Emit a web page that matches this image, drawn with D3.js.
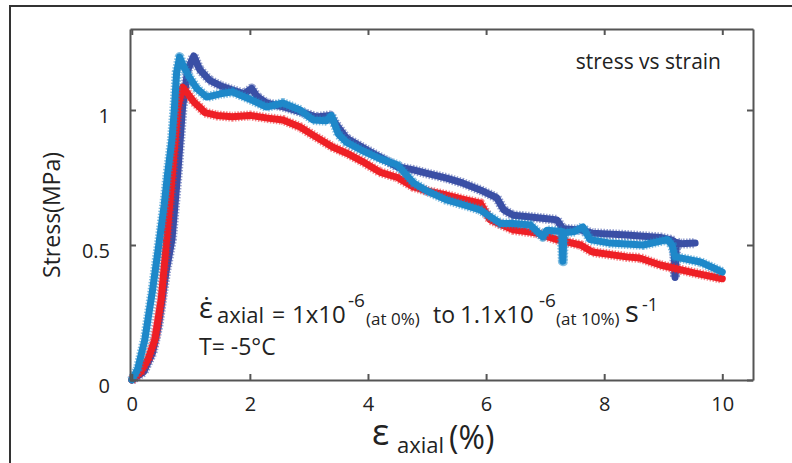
<!DOCTYPE html>
<html>
<head>
<meta charset="utf-8">
<script src="https://cdn.jsdelivr.net/npm/d3@7"></script>
<style>
  body { margin: 0; background: #fff; }
  svg { display: block; font-family: "Open Sans", sans-serif; }
</style>
</head>
<body>
<svg id="chart" width="792" height="463"></svg>
<script>
// tick values
const xTicks = [0, 2, 4, 6, 8, 10];
const yTicks = [0, 0.5, 1];

// strain (%) and stress (MPa)
const darkStrain = [0, 0.2, 0.35, 0.45, 0.58, 0.68, 0.78, 0.86, 0.95, 1.05, 1.15, 1.32, 1.5, 1.71, 1.9, 2.03, 2.12, 2.28, 2.6, 2.9, 3.13, 3.36, 3.45, 3.64, 4.0, 4.25, 4.49, 4.77, 5.0, 5.33, 5.6, 5.9, 6.18, 6.3, 6.46, 6.75, 7.03, 7.2, 7.3, 7.6, 7.8, 8.38, 8.95, 9.12, 9.18, 9.2, 9.22, 9.3, 9.54];
const darkStress = [0, 0.03, 0.1, 0.2, 0.4, 0.52, 0.77, 1.01, 1.15, 1.2, 1.15, 1.11, 1.09, 1.074, 1.06, 1.08, 1.05, 1.026, 1.01, 0.99, 0.974, 0.98, 0.95, 0.895, 0.85, 0.82, 0.79, 0.778, 0.765, 0.748, 0.73, 0.704, 0.675, 0.63, 0.61, 0.604, 0.597, 0.593, 0.56, 0.556, 0.544, 0.537, 0.528, 0.52, 0.515, 0.38, 0.51, 0.505, 0.507];

const lightStrain = [0, 0.1, 0.22, 0.35, 0.47, 0.55, 0.61, 0.68, 0.72, 0.76, 0.81, 0.88, 0.98, 1.1, 1.27, 1.5, 1.71, 2.0, 2.28, 2.56, 2.85, 3.07, 3.3, 3.38, 3.5, 3.64, 3.9, 4.2, 4.5, 4.77, 5.0, 5.33, 5.6, 5.9, 6.24, 6.46, 6.75, 6.96, 7.03, 7.28, 7.3, 7.32, 7.5, 7.64, 7.76, 8.1, 8.66, 9.07, 9.15, 9.2, 9.63, 10.0];
const lightStress = [0, 0.04, 0.148, 0.33, 0.52, 0.65, 0.77, 0.89, 1.0, 1.14, 1.196, 1.16, 1.12, 1.08, 1.048, 1.06, 1.067, 1.04, 1.011, 1.026, 1.0, 0.963, 0.96, 0.98, 0.91, 0.88, 0.85, 0.82, 0.796, 0.73, 0.7, 0.667, 0.65, 0.63, 0.58, 0.58, 0.574, 0.53, 0.555, 0.55, 0.44, 0.545, 0.55, 0.567, 0.52, 0.507, 0.5, 0.52, 0.5, 0.456, 0.437, 0.4];

const redStrain = [0, 0.15, 0.28, 0.39, 0.5, 0.59, 0.69, 0.78, 0.86, 0.95, 1.05, 1.15, 1.24, 1.44, 1.7, 2.0, 2.3, 2.56, 2.85, 3.07, 3.4, 3.64, 3.9, 4.2, 4.5, 4.77, 5.0, 5.33, 5.6, 5.9, 6.07, 6.46, 6.86, 7.2, 7.6, 7.8, 8.38, 8.6, 8.95, 9.54, 10.0];
const redStress = [0, 0.03, 0.08, 0.148, 0.3, 0.52, 0.77, 1.01, 1.085, 1.06, 1.03, 1.01, 0.99, 0.98, 0.975, 0.98, 0.97, 0.963, 0.937, 0.907, 0.863, 0.84, 0.81, 0.77, 0.75, 0.715, 0.7, 0.685, 0.67, 0.655, 0.593, 0.556, 0.544, 0.52, 0.5, 0.474, 0.456, 0.452, 0.426, 0.396, 0.375];

const series = [
  { name: "dark", color: "#3a4fa5", strain: darkStrain, stress: darkStress },
  { name: "red", color: "#ee1f25", strain: redStrain, stress: redStress },
  { name: "light", color: "#1e88c9", strain: lightStrain, stress: lightStress }
];

const svg = d3.select("#chart");
const plotLeft = 130, plotRight = 753, plotTop = 29, plotBottom = 380;

const x = d3.scaleLinear().domain([-0.03, 10.52]).range([plotLeft, plotRight]);
const y = d3.scaleLinear().domain([0, 1.3]).range([plotBottom, plotTop]);

// outer frame (top and left edges only)
svg.append("path")
  .attr("d", `M10,463V6H792`)
  .attr("fill", "none")
  .attr("stroke", "#333")
  .attr("stroke-width", 2);

// data bands: a fuzzy dashed edge under a solid core
const line = d3.line()
  .x((d) => x(d[0]))
  .y((d) => y(d[1]));

series.forEach((s) => {
  const pts = s.strain.map((v, i) => [v, s.stress[i]]);
  svg.append("path")
    .datum(pts)
    .attr("d", line)
    .attr("fill", "none")
    .attr("stroke", s.color)
    .attr("stroke-width", 10)
    .attr("stroke-dasharray", "1.5,1.5")
    .attr("stroke-linejoin", "round")
    .style("opacity", 0.55);
  svg.append("path")
    .datum(pts)
    .attr("d", line)
    .attr("fill", "none")
    .attr("stroke", s.color)
    .attr("stroke-width", 7)
    .attr("stroke-linejoin", "round")
    .attr("stroke-linecap", "round");
});

// axes
function styleAxis(g) {
  g.selectAll(".domain, .tick line")
    .attr("stroke", "#555")
    .attr("stroke-width", 2);
  g.selectAll("text")
    .attr("fill", "#222")
    .style("font-family", "'Open Sans', sans-serif")
    .style("font-size", "20px");
}

svg.append("g")
  .attr("transform", `translate(0,${plotBottom})`)
  .call(d3.axisBottom(x).tickValues(xTicks).tickSizeInner(-6).tickSizeOuter(0).tickPadding(17).tickFormat(d3.format("d")))
  .call(styleAxis);

svg.append("g")
  .attr("transform", `translate(0,${plotTop})`)
  .call(d3.axisTop(x).tickValues(xTicks).tickSizeInner(-6).tickSizeOuter(0).tickFormat(""))
  .call(styleAxis);

svg.append("g")
  .attr("transform", `translate(${plotLeft},0)`)
  .call(d3.axisLeft(y).tickValues(yTicks).tickSizeInner(-6).tickSizeOuter(0).tickPadding(20).tickFormat((d) => String(d)))
  .call(styleAxis)
  .selectAll("text")
  .attr("dy", "0.6em");

svg.append("g")
  .attr("transform", `translate(${plotRight},0)`)
  .call(d3.axisRight(y).tickValues(yTicks).tickSizeInner(-6).tickSizeOuter(0).tickFormat(""))
  .call(styleAxis);

// axis titles
svg.append("text")
  .attr("transform", "translate(60,215) rotate(-90)")
  .attr("text-anchor", "middle")
  .attr("fill", "#222")
  .style("font-size", "23px")
  .text("Stress(MPa)");

const xt = svg.append("text")
  .attr("fill", "#222");
xt.append("tspan").attr("x", 372).attr("y", 445).style("font-size", "36px").text("ε");
xt.append("tspan").attr("x", 397).attr("y", 453).style("font-size", "22px").text("axial");
xt.append("tspan").attr("x", 449).attr("y", 449).style("font-size", "32px").text("(%)");

// inset labels
svg.append("text")
  .attr("x", 721)
  .attr("y", 69)
  .attr("text-anchor", "end")
  .attr("fill", "#222")
  .style("font-size", "21px")
  .text("stress vs strain");

const rate = svg.append("text").attr("fill", "#222");
rate.append("tspan").attr("x", 199).attr("y", 318).style("font-size", "29px").text("ε\u0307");
rate.append("tspan").attr("x", 217).attr("y", 323).style("font-size", "22px").text("axial");
rate.append("tspan").attr("x", 272).attr("y", 323).style("font-size", "23px").text("=");
rate.append("tspan").attr("x", 292).attr("y", 323).style("font-size", "24px").text("1x10");
rate.append("tspan").attr("x", 348).attr("y", 307).style("font-size", "19px").text("-6");
rate.append("tspan").attr("x", 366).attr("y", 325).style("font-size", "17px").text("(at 0%)");
rate.append("tspan").attr("x", 433).attr("y", 323).style("font-size", "23px").text("to");
rate.append("tspan").attr("x", 460).attr("y", 323).style("font-size", "24px").text("1.1x10");
rate.append("tspan").attr("x", 539).attr("y", 307).style("font-size", "19px").text("-6");
rate.append("tspan").attr("x", 556).attr("y", 325).style("font-size", "17px").text("(at 10%)");
rate.append("tspan").attr("x", 625).attr("y", 322).style("font-size", "29px").text("s");
rate.append("tspan").attr("x", 642).attr("y", 311).style("font-size", "18px").text("-1");

svg.append("text")
  .attr("x", 199)
  .attr("y", 355)
  .attr("fill", "#222")
  .style("font-size", "23px")
  .text("T= -5°C");
</script>
</body>
</html>
